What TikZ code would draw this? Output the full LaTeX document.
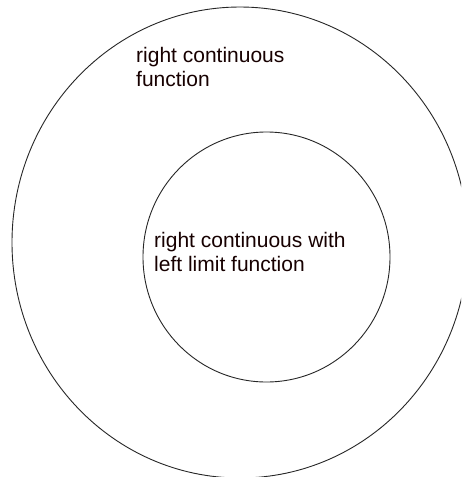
\documentclass[tikz,border=0pt]{standalone}
\usepackage{fontspec}
\setmainfont{Liberation Sans}
\begin{document}
\begin{tikzpicture}[x=1pt,y=-1pt,
  ring/.style={draw=black!85,line width=0.9pt},
  label/.style={inner sep=0pt,align=left,anchor=base west,font=\fontsize{21}{24}\selectfont,text=black!85!red!60!black}]
\useasboundingbox (0,0) rectangle (461,477);
\clip (0,0) rectangle (461,477);
\fill[white] (0,0) rectangle (461,477);
\draw[ring] (240,242.5) ellipse [x radius=228,y radius=235.5];
\draw[ring] (266.5,257) ellipse [x radius=123.5,y radius=125];
\node[label] (outerlabel) at (136,86.5) {right continuous\\function};
\node[label] (innerlabel) at (154,271.5) {right continuous with\\left limit function};
\end{tikzpicture}
\end{document}
